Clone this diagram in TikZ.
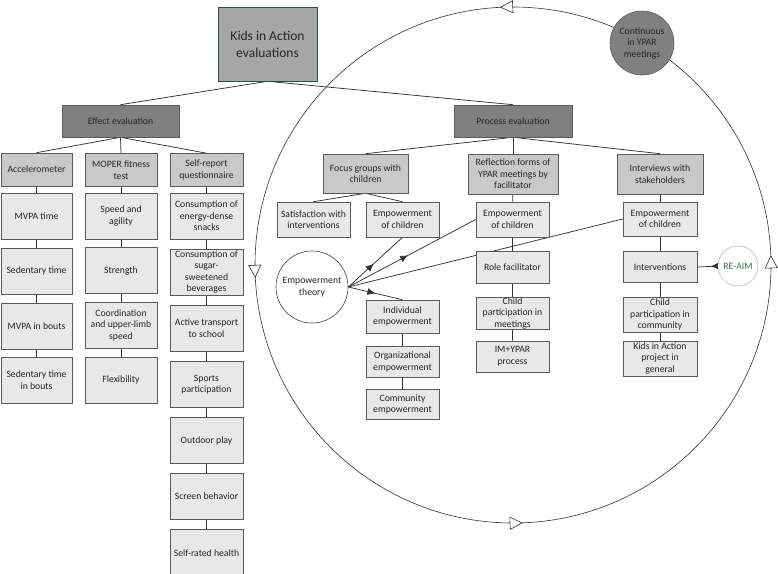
\documentclass[tikz,border=0pt]{standalone}
\usepackage{fontspec}
\setmainfont{Carlito}
\usetikzlibrary{positioning,arrows.meta,decorations.markings,backgrounds}

\definecolor{boxline}{HTML}{5A5A5A}
\definecolor{topfill}{HTML}{A6A6A6}
\definecolor{evalfill}{HTML}{808080}
\definecolor{methodfill}{HTML}{C9C9C9}
\definecolor{itemfill}{HTML}{E8E8E8}
\definecolor{theoryline}{HTML}{2F4F3F}
\definecolor{reaimgreen}{HTML}{3F6F4F}
\definecolor{textgrey}{HTML}{262626}

\begin{document}
\begin{tikzpicture}[
    x=1pt, y=-1pt,
    node distance=8pt,
    every node/.style={font=\fontsize{9.7}{11.5}\selectfont, text=textgrey, align=center},
    base/.style={draw=boxline, line width=0.6pt, inner sep=1pt},
    topbox/.style={base, fill=topfill, draw=theoryline, minimum width=99pt,
                   minimum height=74pt, font=\fontsize{13.5}{17}\selectfont},
    evalbox/.style={base, fill=evalfill, minimum width=117pt, minimum height=32pt},
    methodbox/.style={base, fill=methodfill, minimum width=72pt, minimum height=33pt},
    itembox/.style={base, fill=itemfill, minimum width=72pt, minimum height=46pt},
    smallitem/.style={base, fill=itemfill, minimum width=73pt, minimum height=33pt},
    theorynode/.style={circle, draw=theoryline, fill=white, line width=0.6pt,
                   minimum size=72pt, inner sep=0pt},
    link/.style={draw=black!80, line width=0.75pt},
    theoryarrow/.style={link, postaction={decorate}, decoration={markings,
                   mark=at position #1 with {\arrow{Latex[length=8pt,width=7pt]}}}},
    cycleline/.style={draw=black!80, line width=0.6pt, postaction={decorate},
                   decoration={markings,
                   mark=at position 0.006 with {\arrow{Triangle[fill=white,length=13pt,width=13pt]}},
                   mark=at position 0.258 with {\arrow{Triangle[fill=white,length=13pt,width=13pt]}},
                   mark=at position 0.508 with {\arrow{Triangle[fill=white,length=13pt,width=13pt]}},
                   mark=at position 0.756 with {\arrow{Triangle[fill=white,length=13pt,width=13pt]}}}}
  ]
    \useasboundingbox (0,0) rectangle (778,573);

    % Top of the tree
    \node[topbox] (kia) at (267.5,44) {Kids in Action\\evaluations};
    \node[evalbox] (effect) at (120.5,121) {Effect evaluation};
    \node[evalbox, minimum width=118pt] (process) at (513,121) {Process evaluation};

    % Effect evaluation: three measurement columns
    \node[methodbox, minimum width=71pt] (accel) at (36.5,169.5) {Accelerometer};
    \node[methodbox] (moper) at (121,170) {MOPER fitness\\test};
    \node[methodbox, minimum width=73pt] (selfrep) at (206.5,170) {Self-report\\questionnaire};

    \node[itembox, minimum width=71pt, below=7pt of accel] (mvpa) {MVPA time};
    \node[itembox, minimum width=71pt, below=of mvpa] (sedtime) {Sedentary time};
    \node[itembox, minimum width=71pt, below=of sedtime] (mvpabouts) {MVPA in bouts};
    \node[itembox, minimum width=71pt, below=of mvpabouts] (sedbouts) {Sedentary time\\in bouts};

    \node[itembox, below=6pt of moper] (speed) {Speed and\\agility};
    \node[itembox, below=of speed] (strength) {Strength};
    \node[itembox, below=of strength] (coord) {Coordination\\and upper-limb\\speed};
    \node[itembox, below=of coord] (flex) {Flexibility};

    \node[itembox, minimum width=73pt, below=6pt of selfrep] (snacks) {Consumption of\\energy-dense\\snacks};
    \node[itembox, minimum width=73pt, below=9.5pt of snacks] (sugar) {Consumption of\\sugar-\\sweetened\\beverages};
    \node[itembox, minimum width=73pt, below=9.5pt of sugar] (transport) {Active transport\\to school};
    \node[itembox, minimum width=73pt, below=9.5pt of transport] (sports) {Sports\\participation};
    \node[itembox, minimum width=73pt, below=9.5pt of sports] (outdoor) {Outdoor play};
    \node[itembox, minimum width=73pt, below=9.5pt of outdoor] (screen) {Screen behavior};
    \node[itembox, minimum width=73pt, below=9.5pt of screen] (health) {Self-rated health};

    % Process evaluation
    \node[methodbox, minimum width=85pt, minimum height=39pt] (focus) at (365.5,173.5) {Focus groups with\\children};
    \node[methodbox, minimum width=90pt, minimum height=40pt] (reflect) at (513,174) {Reflection forms of\\YPAR meetings by\\facilitator};
    \node[methodbox, minimum width=86pt, minimum height=40pt] (interv) at (660,174) {Interviews with\\stakeholders};

    \node[smallitem, minimum height=35pt] (satisf) at (313.5,219.5) {Satisfaction with\\interventions};
    \node[smallitem, minimum height=35pt] (empfocus) at (402.5,219.5) {Empowerment\\of children};
    \node[smallitem] (individ) at (402.5,316.5) {Individual\\empowerment};
    \node[smallitem, minimum height=31pt, below=13pt of individ] (organiz) {Organizational\\empowerment};
    \node[smallitem, minimum height=30pt, below=11pt of organiz] (communit) {Community\\empowerment};

    \node[smallitem, minimum height=35pt] (emprefl) at (512.5,219.5) {Empowerment\\of children};
    \node[smallitem, minimum height=32pt, below=14pt of emprefl] (rolefac) {Role facilitator};
    \node[smallitem, minimum height=32pt, inner sep=0pt, below=13pt of rolefac] (childmeet) {Child\\participation in\\meetings};
    \node[smallitem, minimum height=31pt, below=11pt of childmeet] (imypar) {IM+YPAR\\process};

    \node[smallitem, minimum width=74pt, minimum height=34pt] (empinterv) at (660,219) {Empowerment\\of children};
    \node[smallitem, minimum width=74pt, minimum height=31pt, below=15pt of empinterv] (interventions) {Interventions};
    \node[smallitem, minimum width=74pt, minimum height=35pt, below=14pt of interventions] (childcomm) {Child\\participation in\\community};
    \node[smallitem, minimum width=74pt, minimum height=35pt, below=8pt of childcomm] (kiaproject) {Kids in Action\\project in\\general};

    % Theories and the YPAR cycle
    \node[theorynode] (theory) at (312,287) {Empowerment\\theory};
    \node[circle, draw=gray!55, fill=white, line width=0.6pt, minimum size=40pt,
          inner sep=0pt, text=reaimgreen] (reaim) at (738,266) {RE-AIM};
    \node[circle, draw=boxline, fill=evalfill, line width=0.6pt, minimum size=64pt,
          inner sep=0pt] (continuous) at (642,43) {Continuous\\in YPAR\\meetings};
    \coordinate (hub) at (513,265);

    \begin{scope}[on background layer]
      \draw[cycleline] (hub) circle[radius=258pt];

      % Tree connectors
      \draw[link] (kia.south) -- (effect.north);
      \draw[link] (kia.south) -- (process.north);
      \draw[link] (effect.south) -- (accel.north);
      \draw[link] (effect.south) -- (moper.north);
      \draw[link] (effect.south) -- (selfrep.north);
      \draw[link] (process.south) -- (focus.north);
      \draw[link] (process.south) -- (reflect.north);
      \draw[link] (process.south) -- (interv.north);
      \draw[link] (focus.south) -- (satisf.north);
      \draw[link] (focus.south) -- (empfocus.north);

      \draw[link] (accel) -- (mvpa) -- (sedtime) -- (mvpabouts) -- (sedbouts);
      \draw[link] (moper) -- (speed) -- (strength) -- (coord) -- (flex);
      \draw[link] (selfrep) -- (snacks) -- (sugar) -- (transport) -- (sports)
                  -- (outdoor) -- (screen) -- (health);
      \draw[link] (reflect) -- (emprefl) -- (rolefac) -- (childmeet) -- (imypar);
      \draw[link] (interv) -- (empinterv) -- (interventions) -- (childcomm) -- (kiaproject);
      \draw[link] (individ) -- (organiz) -- (communit);

      % From the theories
      \draw[theoryarrow=0.47] (theory.east) -- (empfocus.south);
      \draw[theoryarrow=0.47] (theory.east) -- (emprefl.west);
      \draw[link] (theory.east) -- (empinterv.west);
      \draw[theoryarrow=0.5] (theory.east) -- (individ.north);
      \draw[theoryarrow=0.35] (reaim.west) -- (interventions.east);
    \end{scope}
  \end{tikzpicture}
\end{document}
